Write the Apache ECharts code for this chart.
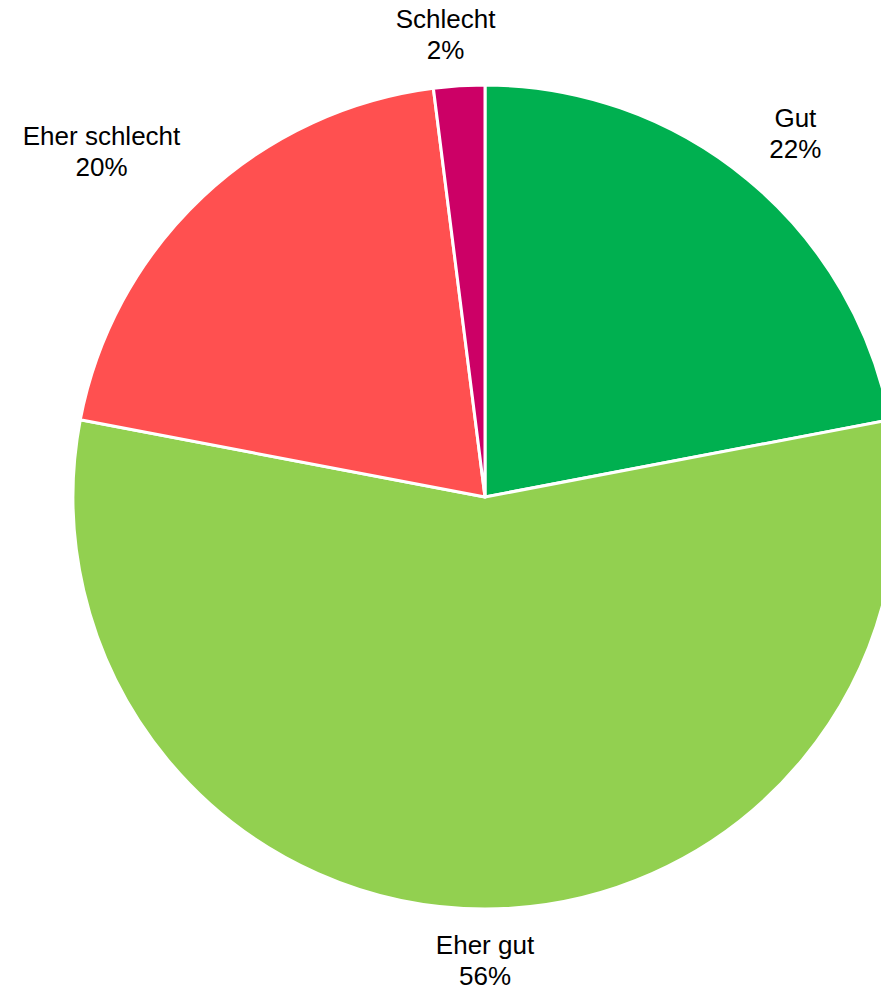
<!DOCTYPE html>
<html>
<head>
<meta charset="utf-8">
<script src="https://cdn.jsdelivr.net/npm/echarts@6/dist/echarts.min.js"></script>
<style>
  html, body { margin: 0; padding: 0; background: #ffffff; }
  #chart { width: 881px; height: 993px; }
</style>
</head>
<body>
<div id="chart"></div>
<script>
// Answer categories, clockwise from 12 o'clock
const categories = ['Gut', 'Eher gut', 'Eher schlecht', 'Schlecht'];
// Share of answers in percent
const shares = [22, 56, 20, 2];
const sliceColors = ['#00B050', '#92D050', '#FF5050', '#CC0066'];

const CX = 485, CY = 497, R = 412;
const LABEL_GAP = 432;   // distance from centre to the label anchor
const LABEL_PAD = 9;

const total = shares.reduce((a, b) => a + b, 0);
// Mid angle of each slice (radians, clockwise from the top)
const midAngles = [];
let acc = 0;
shares.forEach(v => {
  midAngles.push(((acc + v / 2) / total) * Math.PI * 2);
  acc += v;
});

const chart = echarts.init(document.getElementById('chart'), null, { renderer: 'svg' });

chart.setOption({
  animation: false,
  backgroundColor: '#ffffff',
  series: [{
    type: 'pie',
    center: [CX, CY],
    radius: [0, R],
    startAngle: 90,
    clockwise: true,
    avoidLabelOverlap: false,
    emphasis: { disabled: true },
    itemStyle: { borderColor: '#ffffff', borderWidth: 3 },
    label: {
      show: true,
      position: 'outside',
      formatter: p => p.name + '\n' + p.value + '%',
      fontFamily: '"Liberation Sans", Arial, sans-serif',
      fontSize: 26,
      lineHeight: 31,
      color: '#000000',
      align: 'center'
    },
    labelLine: { show: false },
    // Place each label just outside the rim, pushed away from the pie by its own size
    labelLayout: function (params) {
      const a = midAngles[params.dataIndex];
      const ux = Math.sin(a), uy = -Math.cos(a);
      const w = params.labelRect.width / 2 + LABEL_PAD;
      const h = params.labelRect.height / 2;
      const sx = Math.max(-1, Math.min(1, ux / 0.3));
      const sy = Math.max(-1, Math.min(1, uy / 0.3));
      return {
        x: CX + LABEL_GAP * ux + w * sx,
        y: CY + LABEL_GAP * uy + h * sy,
        align: 'center',
        verticalAlign: 'middle'
      };
    },
    data: categories.map((name, i) => ({
      name: name,
      value: shares[i],
      itemStyle: { color: sliceColors[i] }
    }))
  }]
});
</script>
</body>
</html>
